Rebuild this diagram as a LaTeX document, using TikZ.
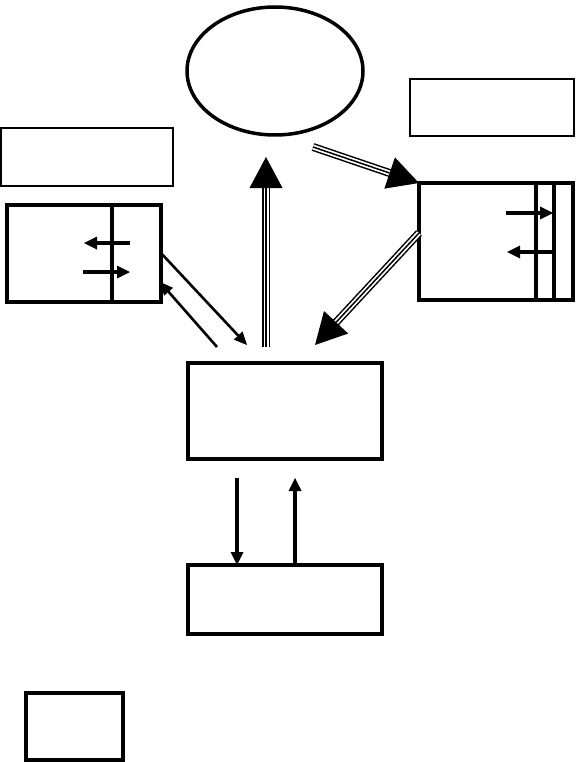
\documentclass[tikz,border=0pt]{standalone}
\usetikzlibrary{arrows.meta,shapes.geometric}
\tikzset{
  thinbox/.style={draw, rectangle, line width=1.6pt, inner sep=0pt, outer sep=0pt},
  thickbox/.style={draw, rectangle, line width=3.2pt, inner sep=0pt, outer sep=0pt},
  smallarr/.style={line width=3.2pt, -{Triangle[length=13pt,width=13pt,line width=0pt]}},
  diagarr/.style={line width=2.6pt, -{Triangle[length=13pt,width=12pt,line width=0pt]}},
}
\newcommand\triplearrow[2]{%
  \draw[line width=8pt, shorten >=28pt] (#1) -- (#2);
  \draw[line width=5pt, white, shorten >=27pt] (#1) -- (#2);
  \draw[line width=1.5pt, -{Triangle[length=31pt,width=33pt,line width=0pt]}] (#1) -- (#2);
}
\begin{document}
\begin{tikzpicture}[x=1pt,y=-1pt]
\useasboundingbox[fill=white] (0,0) rectangle (575,762);
% shapes
\node[draw, ellipse, line width=3.5pt, minimum width=176pt, minimum height=128pt, inner sep=0pt] (ell) at (275,71) {};
\node[thinbox, minimum width=172pt, minimum height=58pt] (thinL) at (87,157) {};
\node[thinbox, minimum width=164pt, minimum height=57pt] (thinR) at (492,107.5) {};
\node[thickbox, minimum width=154pt, minimum height=97pt] (leftbox) at (84,253.5) {};
\node[thickbox, minimum width=154pt, minimum height=117pt] (rightbox) at (496,241.5) {};
\node[thickbox, minimum width=194pt, minimum height=96pt] (mid) at (285,411) {};
\node[thickbox, minimum width=194pt, minimum height=69pt] (low) at (285,599.5) {};
\node[thickbox, minimum width=97pt, minimum height=67pt] (small) at (74.5,726.5) {};
% dividers
\draw[line width=3.2pt] (112,205) -- (112,302);
\draw[line width=3.2pt] (536,183) -- (536,300);
\draw[line width=3.2pt] (554,183) -- (554,300);
\draw[line width=4.5pt] (573,183) -- (573,300);
% inner arrows left box
\coordinate (la1) at (130,243); \coordinate (la2) at (84,243);
\coordinate (lb1) at (83,272); \coordinate (lb2) at (130,272);
\draw[smallarr] (la1) -- (la2);
\draw[smallarr] (lb1) -- (lb2);
% inner arrows right box
\coordinate (ra1) at (506,213); \coordinate (ra2) at (553,213);
\coordinate (rb1) at (554,252); \coordinate (rb2) at (507,252);
\draw[smallarr] (ra1) -- (ra2);
\draw[smallarr] (rb1) -- (rb2);
% left box <-> mid
\coordinate (p1) at (160,252); \coordinate (p2) at (247,345);
\coordinate (q1) at (217,347); \coordinate (q2) at (160,282);
\draw[diagarr] (p1) -- (p2);
\draw[diagarr] (q1) -- (q2);
% mid <-> low
\coordinate (d1) at (237,478);
\coordinate (u1) at (295,478);
\draw[smallarr] (d1) -- (d1 |- low.north);
\draw[smallarr] (u1 |- low.north) -- (u1);
% triple arrows
\coordinate (t1a) at (266,347); \coordinate (t1b) at (266,157);
\triplearrow{t1a}{t1b}
\coordinate (t2a) at (313,147);
\triplearrow{t2a}{rightbox.north west}
\coordinate (t3a) at (419,233); \coordinate (t3b) at (315,345);
\triplearrow{t3a}{t3b}
\end{tikzpicture}
\end{document}
